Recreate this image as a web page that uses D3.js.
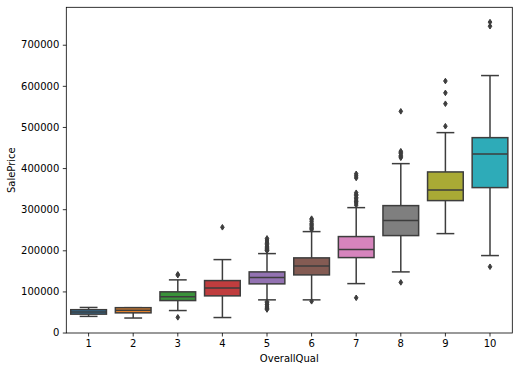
<!DOCTYPE html>
<html>
<head>
<meta charset="utf-8">
<script src="https://d3js.org/d3.v7.min.js"></script>
<style>
  body { margin: 0; background: #fff; }
  text { font-family: "DejaVu Sans", sans-serif; }
</style>
</head>
<body>
<svg width="519" height="371"></svg>
<script>
// values (SalePrice by OverallQual)
var categories = ["1", "2", "3", "4", "5", "6", "7", "8", "9", "10"];
var whiskerLow  = [39300, 35311, 53500, 36500, 79500, 79500, 119000, 147500, 240600, 187200];
var q1          = [44725, 47900, 77800, 89200, 118400, 140200, 182300, 235800, 320900, 352500];
var median      = [50150, 54400, 87000, 108500, 133700, 162100, 201800, 272200, 346900, 434400];
var q3          = [55575, 60500, 99000, 126400, 147500, 181600, 233400, 308700, 390600, 474000];
var whiskerHigh = [61000, 60500, 128100, 177400, 192000, 245500, 303800, 410800, 486200, 625000];
var outliers = [
  [],
  [],
  [37000, 139600, 141500],
  [256000],
  [55993, 58500, 60000, 62383, 64500, 67000, 68400, 72500, 75000,
   198900, 200000, 202500, 205000, 207500, 210000, 213500, 217000, 220000, 224900, 228950],
  [76000, 250000, 253000, 255000, 259000, 262000, 265000, 269500, 274000, 277000],
  [84500, 310000, 315000, 318000, 320000, 325000, 328000, 333000, 336000, 340000,
   376000, 381000, 386000],
  [122000, 425000, 428000, 431000, 435000, 438000, 441000, 538000],
  [501800, 556500, 582900, 611700],
  [160000, 745000, 755000]
];
var yTicks = [0, 100000, 200000, 300000, 400000, 500000, 600000, 700000];
var colors = ["#3274a1", "#e1812c", "#3a923a", "#c03d3e", "#9372b2",
              "#845b53", "#d684bd", "#7f7f7f", "#a9aa35", "#2eabb8"];

var svg = d3.select("svg");
var width = +svg.attr("width"), height = +svg.attr("height");
var marge = {top: 7.3, right: 6.7, bottom: 38, left: 66.3};
var iw = width - marge.left - marge.right, ih = height - marge.top - marge.bottom;
var g = svg.append("g").attr("transform", "translate(" + marge.left + "," + marge.top + ")");

var x = d3.scaleBand().domain(categories).range([0, iw]).padding(0);
var y = d3.scaleLinear().domain([-1105, 791005]).range([ih, 0]);
var gray = "#3d3d3d";
var bw = x.bandwidth() * 0.8, cw = bw / 2;

var boxes = g.selectAll(".box")
  .data(categories)
  .enter().append("g")
  .attr("class", "box")
  .attr("transform", function(d) { return "translate(" + (x(d) + x.bandwidth() / 2) + ",0)"; });

// whiskers
boxes.append("line")
  .attr("x1", 0).attr("x2", 0)
  .attr("y1", function(d, i) { return y(q1[i]); })
  .attr("y2", function(d, i) { return y(whiskerLow[i]); })
  .attr("stroke", gray).attr("stroke-width", 1.5);
boxes.append("line")
  .attr("x1", 0).attr("x2", 0)
  .attr("y1", function(d, i) { return y(q3[i]); })
  .attr("y2", function(d, i) { return y(whiskerHigh[i]); })
  .attr("stroke", gray).attr("stroke-width", 1.5);
// caps
boxes.append("line")
  .attr("x1", -cw / 2).attr("x2", cw / 2)
  .attr("y1", function(d, i) { return y(whiskerLow[i]); })
  .attr("y2", function(d, i) { return y(whiskerLow[i]); })
  .attr("stroke", gray).attr("stroke-width", 1.5);
boxes.append("line")
  .attr("x1", -cw / 2).attr("x2", cw / 2)
  .attr("y1", function(d, i) { return y(whiskerHigh[i]); })
  .attr("y2", function(d, i) { return y(whiskerHigh[i]); })
  .attr("stroke", gray).attr("stroke-width", 1.5);
// box
boxes.append("rect")
  .attr("x", -bw / 2).attr("width", bw)
  .attr("y", function(d, i) { return y(q3[i]); })
  .attr("height", function(d, i) { return y(q1[i]) - y(q3[i]); })
  .attr("fill", function(d, i) { return colors[i]; })
  .attr("stroke", gray).attr("stroke-width", 1.5);
// median
boxes.append("line")
  .attr("x1", -bw / 2).attr("x2", bw / 2)
  .attr("y1", function(d, i) { return y(median[i]); })
  .attr("y2", function(d, i) { return y(median[i]); })
  .attr("stroke", gray).attr("stroke-width", 1.5);
// fliers (thin diamonds)
boxes.each(function(d, i) {
  d3.select(this).selectAll("path.flier")
    .data(outliers[i])
    .enter().append("path")
    .attr("class", "flier")
    .attr("d", function(v) {
      var cy = y(v);
      return "M0," + (cy - 2.8) + "L1.8," + cy + "L0," + (cy + 2.8) + "L-1.8," + cy + "Z";
    })
    .attr("fill", gray).attr("stroke", gray).attr("stroke-width", 1);
});

// axes
var xAxis = g.append("g").attr("transform", "translate(0," + ih + ")")
  .call(d3.axisBottom(x).tickSize(3.5).tickPadding(3.5));
var yAxis = g.append("g")
  .call(d3.axisLeft(y).tickValues(yTicks).tickFormat(d3.format("d")).tickSize(3.5).tickPadding(3.5));
[xAxis, yAxis].forEach(function(a) {
  a.select(".domain").remove();
  a.selectAll("line").attr("stroke", "#000").attr("stroke-width", 0.8);
  a.selectAll("text").attr("font-size", "10px").attr("fill", "#000")
    .style("font-family", "'DejaVu Sans', sans-serif");
});

// spines
g.append("rect").attr("x", 0).attr("y", 0).attr("width", iw).attr("height", ih)
  .attr("fill", "none").attr("stroke", "#000").attr("stroke-width", 0.8);

// labels
svg.append("text")
  .attr("x", marge.left + iw / 2).attr("y", 362)
  .attr("text-anchor", "middle").attr("font-size", "10px").attr("fill", "#000")
  .text("OverallQual");
svg.append("text")
  .attr("transform", "translate(15," + (marge.top + ih / 2) + ") rotate(-90)")
  .attr("text-anchor", "middle").attr("font-size", "10px").attr("fill", "#000")
  .text("SalePrice");
</script>
</body>
</html>
